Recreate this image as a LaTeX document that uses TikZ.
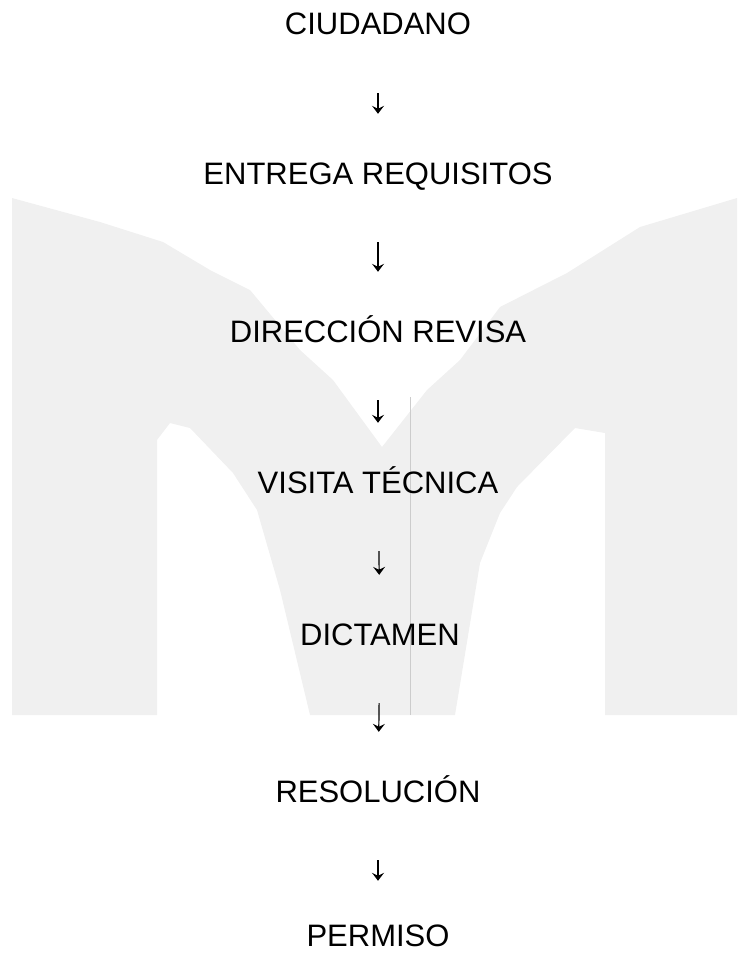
\documentclass[tikz,border=0pt]{standalone}
\usepackage{fontspec}
\setmainfont{Liberation Sans}
\usetikzlibrary{arrows.meta}

\tikzset{
  etapa/.style={inner sep=0pt, text height=22pt, text depth=0pt,
    font=\fontsize{31}{36}\selectfont},
  flecha/.style={-{Stealth[length=8pt,width=12pt,inset=3pt]}, line width=1.2pt,
    shorten <=58pt, shorten >=48pt},
  marca/.style={fill=black!6}
}

\begin{document}
\begin{tikzpicture}[x=1pt,y=-1pt]
\useasboundingbox (0,0) rectangle (739,955);

% marca de agua (M punteada)
\fill[marca] (12,198) -- (100,222) -- (163,242) -- (210,270) -- (250,290)
  -- (300,350) -- (333,380) -- (382,447) -- (427,390) -- (460,360)
  -- (500,307) -- (567,273) -- (640,227) -- (737,198) -- (737,715)
  -- (605,715) -- (605,433) -- (575,428) -- (517,487) -- (500,513)
  -- (480,563) -- (455,715) -- (310,715) -- (280,590) -- (257,510)
  -- (233,473) -- (190,428) -- (170,423) -- (157,440) -- (157,715)
  -- (12,715) -- cycle;
\draw[black!20, line width=0.8pt] (410,397) -- (410,715);

\node[etapa] (ciudadano)  at (378,24)  {CIUDADANO};
\node[etapa] (requisitos) at (378,173) {ENTREGA REQUISITOS};
\node[etapa] (revisa)     at (378,331) {DIRECCIÓN REVISA};
\node[etapa] (visita)     at (378,482) {VISITA TÉCNICA};
\node[etapa] (dictamen)   at (380,634) {DICTAMEN};
\node[etapa] (resolucion) at (378,791) {RESOLUCIÓN};
\node[etapa] (permiso)    at (378,935) {PERMISO};

\draw[flecha] (ciudadano)  -- (requisitos);
\draw[flecha] (requisitos) -- (revisa);
\draw[flecha] (revisa)     -- (visita);
\draw[flecha] (visita)     -- (dictamen);
\draw[flecha] (dictamen)   -- (resolucion);
\draw[flecha, shorten >=43pt] (resolucion) -- (permiso);
\end{tikzpicture}
\end{document}
